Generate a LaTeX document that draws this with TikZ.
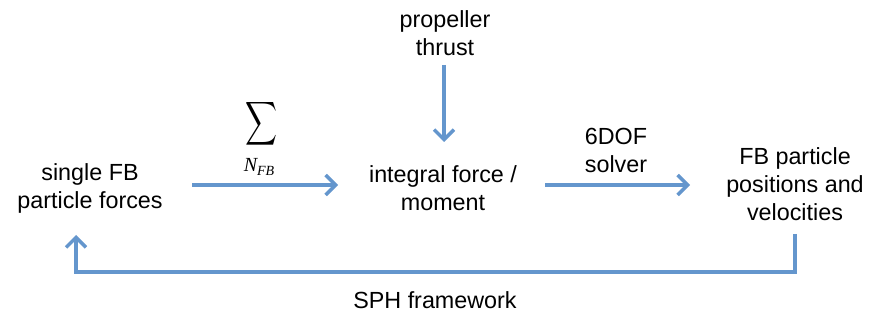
\documentclass[tikz,border=0pt]{standalone}
\usepackage{fontspec}
\setmainfont{Liberation Sans}
\newfontfamily\serifface{Liberation Serif}
\usetikzlibrary{arrows.meta}
\definecolor{flowblue}{RGB}{100,150,205}
\tikzset{
  lbl/.style={font=\fontsize{17.5}{21}\selectfont, align=center, inner sep=0pt, text=black},
  flow/.style={draw=flowblue, line width=3pt, -{Straight Barb[length=7.5pt, width=15pt, line width=2.6pt]}},
}
\begin{document}
\begin{tikzpicture}[x=0.75pt, y=-0.75pt]
  \useasboundingbox (0,0) rectangle (870,320);
  % blocks of the chain
  \node[lbl] (single) at (90,188) {single FB\\particle forces};
  \node[lbl] (integral) at (443,188) {integral force /\\moment};
  \node[lbl] (fbpos) at (795,184) {FB particle\\positions and\\velocities};
  \node[lbl] (prop) at (445,33) {propeller\\thrust};
  % connector labels
  \node[inner sep=0pt] (sum) at (261,124) {\resizebox{24pt}{24pt}{$\displaystyle\sum$}};
  \node[inner sep=0pt] (nfb) at (259,167) {\serifface\fontsize{15}{15}\selectfont\itshape N\raisebox{-0.4ex}{\fontsize{10.5}{10.5}\selectfont FB}};
  \node[lbl] (solver) at (616,150) {6DOF\\solver};
  \node[lbl] (sph) at (435,300) {SPH framework};
  % anchor points of the connectors
  \coordinate (a1s) at (192,185);
  \coordinate (a1e) at (338,185);
  \coordinate (a2s) at (545,185);
  \coordinate (a2e) at (690,185);
  \coordinate (ps) at (444,65);
  \coordinate (pd) at (444,142);
  \coordinate (fs) at (795,234);
  \coordinate (fr) at (795,272);
  \coordinate (fl) at (76,272);
  \coordinate (fe) at (76,235);
  \draw[flow] (a1s) -- (a1e);
  \draw[flow] (a2s) -- (a2e);
  \draw[flow] (ps) -- (pd);
  \draw[flow] (fs) -- (fr) -- (fl) -- (fe);
\end{tikzpicture}
\end{document}
